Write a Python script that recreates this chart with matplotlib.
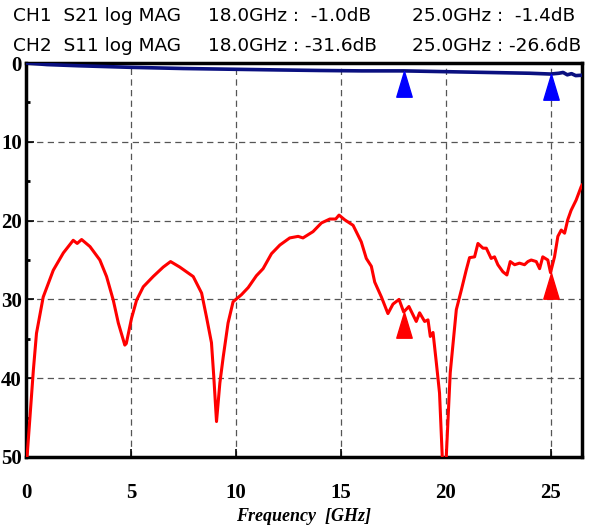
import matplotlib
matplotlib.use('Agg')
import matplotlib.pyplot as plt
from matplotlib.path import Path
from matplotlib.ticker import MultipleLocator, FuncFormatter

# Dane
s21_f = [0.0, 1.0, 2.5, 5.0, 7.5, 10.0, 12.0, 14.0, 16.0, 18.0, 20.0, 22.0, 24.0, 25.0,
         25.4, 25.6, 25.8, 26.0, 26.2, 26.5]
s21_db = [0.0, -0.2, -0.35, -0.55, -0.7, -0.8, -0.88, -0.95, -1.0, -1.0, -1.1, -1.2, -1.3, -1.4,
          -1.3, -1.2, -1.5, -1.35, -1.6, -1.55]

s11_f = [0.05, 0.19, 0.35, 0.5, 0.82, 1.3, 1.78, 2.25, 2.44, 2.65, 3.05, 3.52, 3.84, 4.16,
         4.4, 4.71, 4.78, 5.03, 5.27, 5.59, 6.06, 6.54, 6.89, 7.33, 7.97, 8.37, 8.6, 8.84,
         8.95, 9.08, 9.24, 9.4, 9.63, 9.87, 10.27, 10.59, 10.98, 11.3, 11.7, 12.1, 12.57,
         12.97, 13.2, 13.68, 14.08, 14.48, 14.76, 14.92, 15.19, 15.59, 15.98, 16.22, 16.46,
         16.62, 16.94, 17.25, 17.49, 17.78, 18.0, 18.25, 18.6, 18.76, 19.0, 19.16, 19.27,
         19.4, 19.56, 19.71, 19.84, 19.93, 20.03, 20.22, 20.51, 20.75, 20.98, 21.14, 21.38,
         21.54, 21.78, 21.94, 22.17, 22.33, 22.49, 22.73, 22.92, 23.08, 23.29, 23.52, 23.76,
         23.92, 24.08, 24.32, 24.48, 24.63, 24.87, 25.0, 25.19, 25.35, 25.51, 25.67, 25.82,
         25.98, 26.22, 26.46, 26.5]
s11_db = [-50.0, -44.9, -39.0, -34.3, -29.7, -26.3, -24.1, -22.5, -22.9, -22.4, -23.3, -25.0,
          -27.1, -30.1, -33.0, -35.8, -35.6, -32.4, -30.1, -28.4, -27.1, -25.9, -25.2, -25.9,
          -27.1, -29.2, -32.2, -35.5, -39.8, -45.5, -40.6, -37.3, -33.0, -30.3, -29.4, -28.5,
          -27.0, -26.1, -24.2, -23.1, -22.2, -22.0, -22.2, -21.4, -20.3, -19.8, -19.8, -19.3,
          -19.9, -20.6, -22.7, -24.8, -25.8, -27.8, -29.7, -31.8, -30.6, -30.0, -31.6, -30.9,
          -32.8, -31.7, -32.8, -32.6, -34.7, -34.2, -38.1, -41.9, -50.0, -55.0, -50.0, -39.3,
          -31.3, -28.8, -26.3, -24.7, -24.6, -22.9, -23.5, -23.5, -24.8, -24.6, -25.6, -26.5,
          -26.9, -25.2, -25.6, -25.4, -25.6, -25.2, -25.0, -25.2, -26.1, -24.6, -25.0, -26.6,
          -24.6, -22.0, -21.2, -21.6, -19.9, -18.7, -17.4, -15.7, -15.5]

marker_f = [18.0, 25.0]
ch1_marker_db = [-1.0, -1.4]
ch2_marker_db = [-31.6, -26.6]

fig = plt.figure(figsize=(6, 5.3), dpi=100)
ax = fig.add_axes([26 / 600, 1 - 457 / 530, 556 / 600, 394 / 530])

# Krzywe
ax.plot(s21_f, s21_db, color='#0a1080', lw=2.6, zorder=3)
ax.plot(s11_f, s11_db, color='#ff0000', lw=2.2, zorder=3)

# Znaczniki - trojkat z wierzcholkiem w punkcie pomiaru
tri = Path([(0, 0), (-0.3, -1), (0.3, -1), (0, 0)],
           [Path.MOVETO, Path.LINETO, Path.LINETO, Path.CLOSEPOLY])
ax.plot(marker_f, ch1_marker_db, linestyle='none', marker=tri, markersize=37,
        color='#0000ff', zorder=4)
ax.plot(marker_f, ch2_marker_db, linestyle='none', marker=tri, markersize=37,
        color='#ff0000', zorder=4)

ax.set_xlim(0, 26.5)
ax.set_ylim(-50, 0)
ax.xaxis.set_major_locator(MultipleLocator(5))
ax.yaxis.set_major_locator(MultipleLocator(10))
ax.yaxis.set_minor_locator(MultipleLocator(5))
ax.yaxis.set_major_formatter(FuncFormatter(lambda v, p: f'{abs(v):.0f}'))

ax.grid(True, which='major', color='#555555', linestyle=(0, (5, 3.5)), lw=0.9)
ax.tick_params(axis='both', which='major', direction='in', length=6, width=1.2,
               top=False, right=False)
ax.tick_params(axis='y', which='minor', direction='in', length=3, width=2, left=True)
ax.tick_params(axis='x', which='major', pad=19)
ax.tick_params(axis='y', which='major', pad=3)
for lab in ax.get_xticklabels() + ax.get_yticklabels():
    lab.set_fontfamily('Liberation Serif')
    lab.set_fontweight('bold')
    lab.set_fontsize(15)
for sp in ax.spines.values():
    sp.set_linewidth(2.5)

ax.set_xlabel('Frequency  [GHz]', fontfamily='Liberation Serif', fontstyle='italic',
              fontweight='bold', fontsize=13, labelpad=3)

# Naglowek z wartosciami znacznikow
y1 = 1 - 16 / 530
y2 = 1 - 46 / 530
fs = 13.3
fig.text(13 / 600, y1, 'CH1  S21 log MAG', fontsize=fs, va='center')
fig.text(13 / 600, y2, 'CH2  S11 log MAG', fontsize=fs, va='center')
x_cols = [208 / 600, 412 / 600]
for i in range(2):
    fig.text(x_cols[i], y1, f'{marker_f[i]:.1f}GHz :  {ch1_marker_db[i]:.1f}dB',
             fontsize=fs, va='center')
    fig.text(x_cols[i], y2, f'{marker_f[i]:.1f}GHz : {ch2_marker_db[i]:.1f}dB',
             fontsize=fs, va='center')

plt.savefig('out.png', dpi=100)
plt.close(fig)
